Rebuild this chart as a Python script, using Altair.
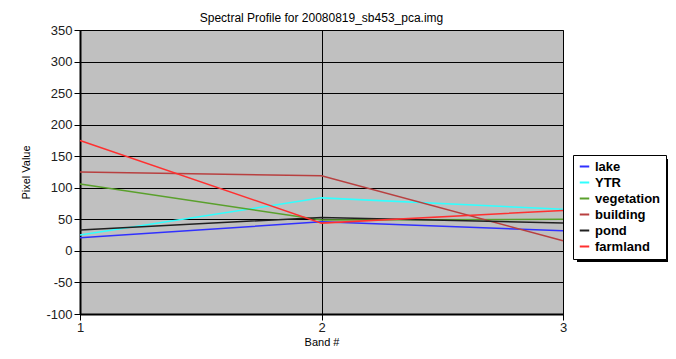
import altair as alt
import pandas as pd

bands = [1, 2, 3]
series_names = ["lake", "YTR", "vegetation", "building", "pond", "farmland"]
lake = [21, 46, 32]
ytr = [25, 84, 66]
vegetation = [106, 49, 50]
building = [125, 119, 16]
pond = [33, 53, 44]
farmland = [175, 44, 64]
colors = ["#3030ff", "#30ffff", "#5aa02c", "#b84040", "#202020", "#ff3030"]
y_ticks = [-100, -50, 0, 50, 100, 150, 200, 250, 300, 350]

values = [lake, ytr, vegetation, building, pond, farmland]
rows = []
for name, vals in zip(series_names, values):
    for b, v in zip(bands, vals):
        rows.append({"band": b, "value": v, "series": name})
df = pd.DataFrame(rows)

W, H = 483, 284

lines = alt.Chart(df).mark_line(strokeWidth=1.5).encode(
    x=alt.X("band:Q", scale=alt.Scale(domain=[1, 3], nice=False, zero=False),
            axis=alt.Axis(values=bands, title="Band #", labelExpr="datum.value + ''",
                          labelOverlap=False, labelFlush=False)),
    y=alt.Y("value:Q", scale=alt.Scale(domain=[-100, 350], nice=False),
            axis=alt.Axis(values=y_ticks, title="Pixel Value", labelExpr="datum.value + ''",
                          labelOverlap=False)),
    color=alt.Color("series:N",
                    scale=alt.Scale(domain=series_names, range=colors),
                    sort=series_names,
                    legend=alt.Legend(title=None, orient="none", legendX=493, legendY=125,
                                      symbolType="stroke", symbolSize=90, symbolStrokeWidth=2,
                                      labelFontWeight="bold", labelFontSize=13,
                                      labelFont="Liberation Sans", labelColor="black",
                                      strokeColor="black", fillColor="white",
                                      padding=5, rowPadding=2, labelLimit=200)),
    detail="series:N",
)

shadow = alt.Chart(pd.DataFrame({"a": [0]})).mark_rect(color="black", clip=False).encode(
    x=alt.value(497), x2=alt.value(592), y=alt.value(129), y2=alt.value(232)
)

chart = alt.layer(shadow, lines).properties(
    width=W, height=H,
    title=alt.TitleParams("Spectral Profile for 20080819_sb453_pca.img",
                          font="Liberation Sans", fontSize=12, fontWeight="normal",
                          color="black", offset=-1),
    padding={"left": 72, "top": 22, "right": 105, "bottom": 37},
    autosize=alt.AutoSizeParams(type="none"),
).configure_view(
    fill="#c0c0c0", stroke="#404040", strokeWidth=1
).configure_axis(
    domainColor="black", domainWidth=2, gridColor="black", gridWidth=1, gridOpacity=1,
    tickColor="black", tickSize=6, labelFont="Liberation Sans", labelFontSize=13,
    labelColor="#202020", titleFont="Liberation Sans", titleFontSize=11,
    titleFontWeight="normal", titleColor="black"
).configure_axisY(titlePadding=14).configure_axisX(titlePadding=2, labelPadding=1)

chart.save("out.html", embed_options={"renderer": "svg", "actions": False})
